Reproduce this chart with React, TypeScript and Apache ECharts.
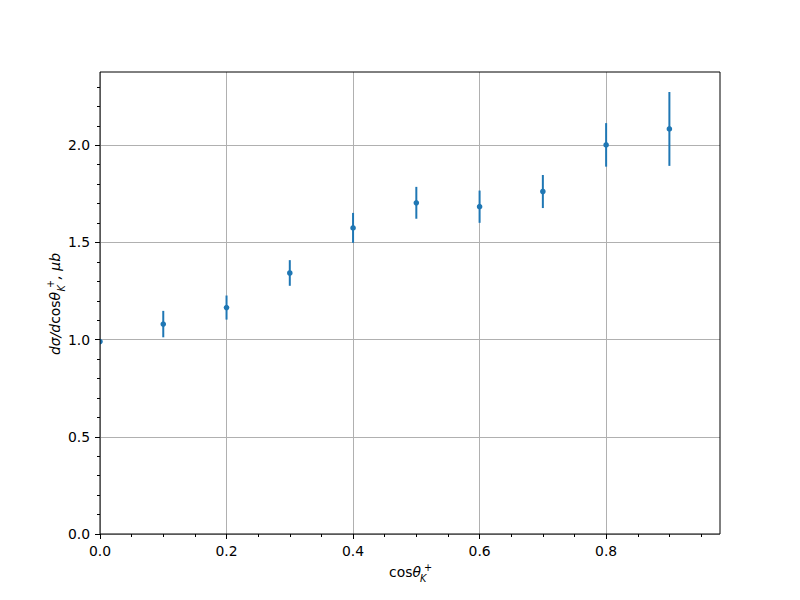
import React, { useEffect, useRef } from "react";
import * as echarts from "echarts";

const xValues = [0, 0.1, 0.2, 0.3, 0.4, 0.5, 0.6, 0.7, 0.8, 0.9];
const yValues = [0.99, 1.08, 1.165, 1.343, 1.575, 1.704, 1.684, 1.762, 2.002, 2.084];
const yErrors = [0, 0.068, 0.062, 0.066, 0.077, 0.082, 0.083, 0.085, 0.112, 0.19];

const xMajorTicks = [0, 0.2, 0.4, 0.6, 0.8];
const xMinorTicks = [0.05, 0.1, 0.15, 0.25, 0.3, 0.35, 0.45, 0.5, 0.55, 0.65, 0.7, 0.75, 0.85, 0.9, 0.95];
const yMajorTicks = [0, 0.5, 1.0, 1.5, 2.0];
const yMinorTicks = [0.1, 0.2, 0.3, 0.4, 0.6, 0.7, 0.8, 0.9, 1.1, 1.2, 1.3, 1.4, 1.6, 1.7, 1.8, 1.9, 2.1, 2.2, 2.3];

const X_MAX = 0.98;
const Y_MAX = 2.377;
const COLOR = "#1f77b4";
const FONT = "DejaVu Sans";
const FS = 13.9;
const SFS = 9.7;

export default function App() {
  const ref = useRef<HTMLDivElement>(null);
  useEffect(() => {
    if (!ref.current) return;
    const chart = echarts.init(ref.current, null, { renderer: "svg" });
    const data = xValues.map((x, i) => [x, yValues[i], yErrors[i]]);
    const labelStyle = { color: "#000", fontFamily: FONT, fontSize: FS, formatter: (v: number) => v.toFixed(1) };
    const italic = { fontFamily: FONT, fontStyle: "italic", fill: "#000" };
    const normal = { fontFamily: FONT, fill: "#000" };
    chart.setOption({
      animation: false,
      backgroundColor: "#fff",
      grid: { left: 100, top: 72, width: 620, height: 462, show: true, borderColor: "#000", borderWidth: 1, backgroundColor: "transparent", z: 10 },
      xAxis: [
        {
          type: "value", min: 0, max: X_MAX, interval: 0.2, position: "bottom",
          axisLine: { show: false },
          axisTick: { show: true, length: 5, customValues: xMajorTicks, lineStyle: { color: "#000", width: 1 } },
          axisLabel: { ...labelStyle, margin: 10, customValues: xMajorTicks },
          splitLine: { show: true, lineStyle: { color: "#b0b0b0", width: 1 } },
        },
        {
          type: "value", min: 0, max: X_MAX, interval: 0.05, position: "bottom",
          axisLine: { show: false },
          axisTick: { show: true, length: 3, customValues: xMinorTicks, lineStyle: { color: "#000", width: 1 } },
          axisLabel: { show: false },
          splitLine: { show: false },
        },
      ],
      yAxis: [
        {
          type: "value", min: 0, max: Y_MAX, interval: 0.5, position: "left",
          axisLine: { show: false },
          axisTick: { show: true, length: 5, customValues: yMajorTicks, lineStyle: { color: "#000", width: 1 } },
          axisLabel: { ...labelStyle, margin: 10, customValues: yMajorTicks },
          splitLine: { show: true, lineStyle: { color: "#b0b0b0", width: 1 } },
        },
        {
          type: "value", min: 0, max: Y_MAX, interval: 0.1, position: "left",
          axisLine: { show: false },
          axisTick: { show: true, length: 3, customValues: yMinorTicks, lineStyle: { color: "#000", width: 1 } },
          axisLabel: { show: false },
          splitLine: { show: false },
        },
      ],
      series: [
        {
          type: "custom",
          clip: true,
          xAxisIndex: 0,
          yAxisIndex: 0,
          encode: { x: 0, y: 1 },
          data,
          renderItem: (params: any, api: any) => {
            const x = api.value(0);
            const y = api.value(1);
            const e = api.value(2);
            const c = api.coord([x, y]);
            const children: any[] = [];
            if (e > 0) {
              const t = api.coord([x, y + e]);
              const b = api.coord([x, y - e]);
              children.push({ type: "line", shape: { x1: t[0], y1: t[1], x2: b[0], y2: b[1] }, style: { stroke: COLOR, lineWidth: 2 } });
            }
            children.push({ type: "circle", shape: { cx: c[0], cy: c[1], r: 2.8 }, style: { fill: COLOR } });
            return { type: "group", children };
          },
        },
      ],
      graphic: [
        { type: "text", x: 389, y: 572, style: { ...normal, text: "cos", fontSize: FS, align: "left", verticalAlign: "middle" } },
        { type: "text", x: 412.4, y: 572, style: { ...italic, text: "θ", fontSize: FS, align: "left", verticalAlign: "middle" } },
        { type: "text", x: 420, y: 578, style: { ...italic, text: "K", fontSize: SFS, align: "left", verticalAlign: "middle" } },
        { type: "text", x: 424, y: 567, style: { ...normal, text: "+", fontSize: SFS, align: "left", verticalAlign: "middle" } },
        {
          type: "group",
          x: 55, y: 303,
          rotation: Math.PI / 2,
          children: [
            { type: "text", x: -52, y: 0, style: { ...italic, text: "dσ/d", fontSize: FS, align: "left", verticalAlign: "middle" } },
            { type: "text", x: -20.8, y: 0, style: { ...normal, text: "cos", fontSize: FS, align: "left", verticalAlign: "middle" } },
            { type: "text", x: 2.6, y: 0, style: { ...italic, text: "θ", fontSize: FS, align: "left", verticalAlign: "middle" } },
            { type: "text", x: 11.4, y: 6, style: { ...italic, text: "K", fontSize: SFS, align: "left", verticalAlign: "middle" } },
            { type: "text", x: 15, y: -5, style: { ...normal, text: "+", fontSize: SFS, align: "left", verticalAlign: "middle" } },
            { type: "text", x: 23.5, y: 0, style: { ...italic, text: ", μb", fontSize: FS, align: "left", verticalAlign: "middle" } },
          ],
        },
      ],
    });
    return () => chart.dispose();
  }, []);
  return <div ref={ref} style={{ width: 800, height: 600, position: "absolute", left: 0, top: 0 }} />;
}
